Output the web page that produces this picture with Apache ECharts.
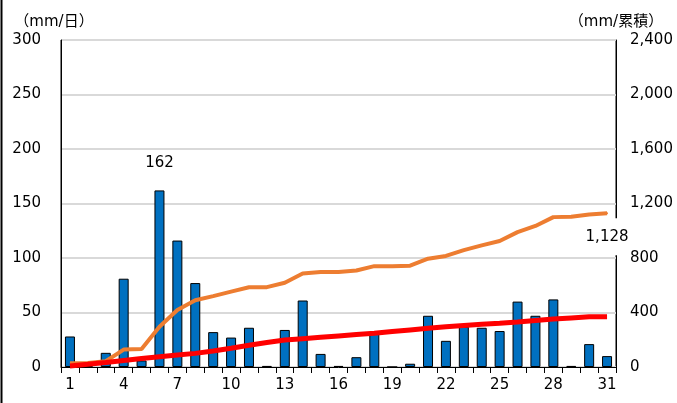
<!DOCTYPE html>
<html>
<head>
<meta charset="utf-8">
<script src="https://cdn.jsdelivr.net/npm/echarts@6/dist/echarts.min.js"></script>
<style>
  html, body { margin: 0; padding: 0; background: #fff; }
  #chart { width: 677px; height: 403px; }
</style>
</head>
<body>
<div id="chart"></div>
<script>
  // 日付
  var days = ['1', '2', '3', '4', '5', '6', '7', '8', '9', '10', '11', '12', '13', '14', '15', '16',
    '17', '18', '19', '20', '21', '22', '23', '24', '25', '26', '27', '28', '29', '30', '31'];
  // 日降水量 (mm/日)
  var daily = [28, 2, 13, 81, 6, 162, 116, 77, 32, 27, 36, 1, 34, 61, 12, 1,
    9, 32, 0, 3, 47, 24, 37, 36, 33, 60, 47, 62, 1, 21, 10];
  // 累積降水量 (mm)
  var cumulative = [27, 29, 42, 128, 132, 296, 418, 490, 520, 553, 585, 586, 618, 686, 697, 698,
    708, 740, 740, 744, 795, 815, 858, 893, 925, 990, 1035, 1100, 1102, 1120, 1128];
  // 平年の累積 (mm)
  var normalCum = [8, 20, 33, 48, 62, 76, 88, 100, 118, 137, 160, 180, 198, 208, 218, 228,
    238, 247, 260, 272, 284, 296, 305, 313, 321, 330, 341, 352, 360, 368, 369];

  var leftMax = 300, leftStep = 50;
  var rightMax = 2400, rightStep = 400;

  var font = '"DejaVu Sans", "Noto Sans CJK JP", sans-serif';

  var barData = daily.map(function (v, i) {
    // 最大値だけラベル表示
    if (v === Math.max.apply(null, daily)) {
      return { value: v, label: { show: true, position: 'top', distance: 20, fontSize: 15, color: '#000', fontFamily: font } };
    }
    return v;
  });

  var cumData = cumulative.map(function (v, i) {
    // 最終日の累積値だけラベル
    if (i === cumulative.length - 1) {
      return {
        value: v,
        symbol: 'circle',
        symbolSize: 2,
        itemStyle: { color: '#ED7D31' },
        label: {
          show: true, position: 'bottom', distance: 4, offset: [-3, 0],
          formatter: function (p) { return Number(p.value).toLocaleString('en-US'); },
          fontSize: 15, color: '#000', fontFamily: font,
          backgroundColor: '#fff', padding: [11, 0, 11, 6]
        }
      };
    }
    return v;
  });

  var chart = echarts.init(document.getElementById('chart'));
  chart.setOption({
    animation: false,
    textStyle: { fontFamily: font },
    grid: {
      left: 61, right: 61, top: 40, bottom: 36,
      show: true, borderColor: '#000', borderWidth: 1
    },
    graphic: [{
      type: 'line', shape: { x1: 1.5, y1: 0, x2: 1.5, y2: 403 },
      style: { stroke: '#000', lineWidth: 2 }
    }],
    xAxis: {
      type: 'category',
      data: days,
      axisLine: { lineStyle: { color: '#000', width: 1 } },
      axisTick: { show: true, interval: 0, length: 6, lineStyle: { color: '#000' } },
      axisLabel: { interval: 2, color: '#000', fontSize: 15, margin: 11 }
    },
    yAxis: [{
      type: 'value',
      min: 0, max: leftMax, interval: leftStep,
      name: '（mm/日）',
      nameGap: 10,
      nameTextStyle: { color: '#000', fontSize: 15, align: 'center', padding: [0, 14, 0, 0] },
      axisLine: { show: true, lineStyle: { color: '#000' } },
      axisTick: { show: false },
      axisLabel: { color: '#000', fontSize: 15, margin: 20 },
      splitLine: { lineStyle: { color: '#d9d9d9', width: 2 } }
    }, {
      type: 'value',
      min: 0, max: rightMax, interval: rightStep,
      name: '（mm/累積）',
      nameGap: 10,
      nameTextStyle: { color: '#000', fontSize: 15, align: 'center' },
      axisLine: { show: true, lineStyle: { color: '#000' } },
      axisTick: { show: false },
      axisLabel: {
        color: '#000', fontSize: 15, margin: 14,
        formatter: function (v) { return v.toLocaleString('en-US'); }
      },
      splitLine: { show: false }
    }],
    series: [{
      type: 'bar',
      data: barData,
      yAxisIndex: 0,
      barWidth: 10,
      itemStyle: { color: '#0070C0', borderColor: '#000', borderWidth: 1 }
    }, {
      type: 'line',
      data: cumData,
      yAxisIndex: 1,
      symbol: 'none',
      lineStyle: { color: '#ED7D31', width: 4 }
    }, {
      type: 'line',
      data: normalCum,
      yAxisIndex: 1,
      symbol: 'none',
      lineStyle: { color: '#FF0000', width: 5 }
    }]
  });
</script>
</body>
</html>
